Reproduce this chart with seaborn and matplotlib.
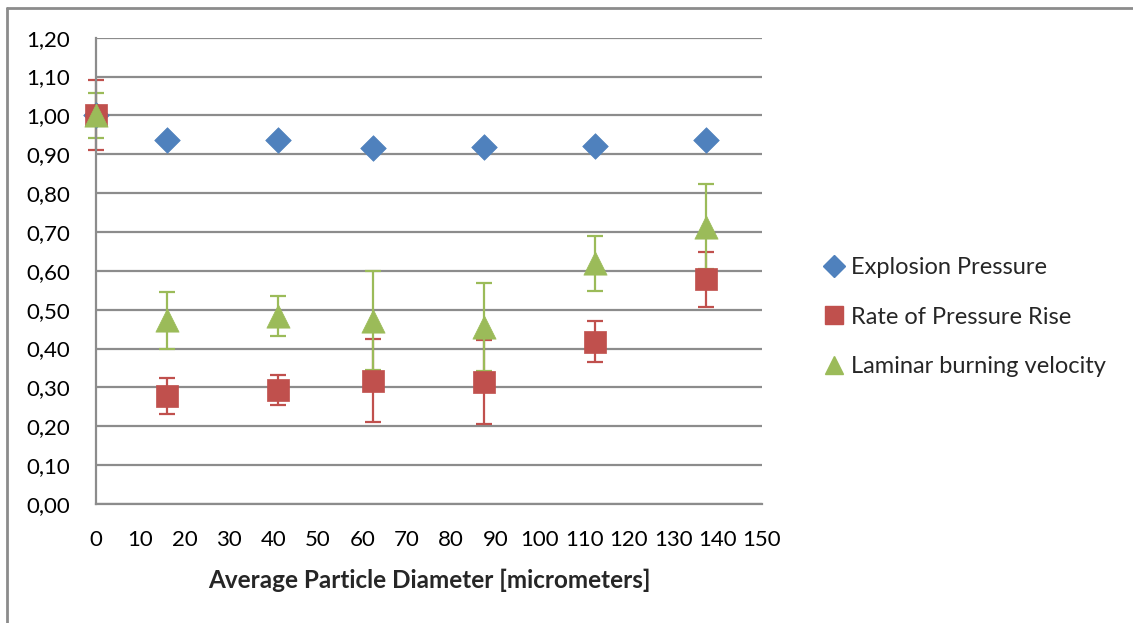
import numpy as np
import pandas as pd
import seaborn as sns
import matplotlib.pyplot as plt
from matplotlib.lines import Line2D
from matplotlib.ticker import FuncFormatter, MultipleLocator

# Normalised explosion parameters vs. average particle diameter
diameter = [0, 15.9, 40.9, 62.4, 87.3, 112.4, 137.3]

explosion_pressure = [1.00, 0.938, 0.938, 0.916, 0.919, 0.921, 0.938]

rate_pressure_rise = [1.00, 0.278, 0.294, 0.317, 0.313, 0.418, 0.578]
rate_err = [0.090, 0.047, 0.039, 0.107, 0.108, 0.052, 0.071]

burning_velocity = [1.00, 0.473, 0.484, 0.472, 0.455, 0.619, 0.714]
burning_err = [0.057, 0.073, 0.051, 0.128, 0.113, 0.070, 0.110]

series_names = ["Explosion Pressure", "Rate of Pressure Rise", "Laminar burning velocity"]
colors = {"Explosion Pressure": "#4F81BD",
          "Rate of Pressure Rise": "#C0504D",
          "Laminar burning velocity": "#9BBB59"}
markers = {"Explosion Pressure": "D",
           "Rate of Pressure Rise": "s",
           "Laminar burning velocity": "^"}
sizes = {"Explosion Pressure": 170,
         "Rate of Pressure Rise": 250,
         "Laminar burning velocity": 280}

df = pd.DataFrame({
    "diameter": diameter * 3,
    "value": explosion_pressure + rate_pressure_rise + burning_velocity,
    "series": sum([[s] * len(diameter) for s in series_names], []),
})

sns.set_theme(style="white")
plt.rcParams["font.family"] = ["Lato", "DejaVu Sans"]

fig = plt.figure(figsize=(11.33, 6.23), dpi=100)
ax = fig.add_axes([96 / 1133, 1 - 504 / 623, (762 - 96) / 1133, (504 - 37.7) / 623])

grid_color = "#8C8C8C"
ax.set_axisbelow(True)
ax.yaxis.grid(True, color=grid_color, linewidth=1.6)
ax.xaxis.grid(False)

# Error bars drawn per series, underneath their own markers
for name, vals, err in [("Rate of Pressure Rise", rate_pressure_rise, rate_err),
                        ("Laminar burning velocity", burning_velocity, burning_err)]:
    eb = ax.errorbar(diameter, vals, yerr=err, fmt="none", ecolor=colors[name],
                     elinewidth=1.6, capsize=6, capthick=1.6, zorder=2)
    for art in eb.lines[1] + eb.lines[2]:
        art.set_clip_on(False)

for name in series_names:
    sub = df[df["series"] == name]
    sns.scatterplot(data=sub, x="diameter", y="value", ax=ax,
                    color=colors[name], marker=markers[name], s=sizes[name],
                    edgecolor=colors[name], linewidth=0.5, zorder=3, legend=False)
for coll in ax.collections:
    coll.set_clip_on(False)

ax.set_xlim(0, 150)
ax.set_ylim(0, 1.2)
ax.xaxis.set_major_locator(MultipleLocator(10))
ax.yaxis.set_major_locator(MultipleLocator(0.1))
ax.yaxis.set_major_formatter(FuncFormatter(lambda v, p: f"{v:.2f}".replace(".", ",")))
ax.tick_params(axis="both", length=0, labelsize=16, colors="black", pad=18.5)

for side in ["top", "right"]:
    ax.spines[side].set_visible(False)
for side in ["left", "bottom"]:
    ax.spines[side].set_color(grid_color)
    ax.spines[side].set_linewidth(1.6)

ax.set_xlabel("Average Particle Diameter [micrometers]", fontsize=17.5,
              fontweight="bold", labelpad=14)
ax.set_ylabel("")

handles = [Line2D([], [], linestyle="none", marker=markers[n], color=colors[n],
                  markersize=ms) for n, ms in zip(series_names, [11, 12.5, 13.5])]
ax.legend(handles, series_names, loc="center left", bbox_to_anchor=(1.08, 0.401),
          frameon=False, fontsize=17, handlelength=0.8, handletextpad=0.3,
          labelspacing=1.2, borderaxespad=0)

# Outer chart frame
frame_kw = dict(color="#8C8C8C", linewidth=2, transform=fig.transFigure)
fig.add_artist(Line2D([7 / 1133, 1.0], [1 - 7.5 / 623, 1 - 7.5 / 623], **frame_kw))
fig.add_artist(Line2D([7 / 1133, 7 / 1133], [0.0, 1 - 7.5 / 623], **frame_kw))

fig.savefig("out.png", dpi=100, facecolor="white")
